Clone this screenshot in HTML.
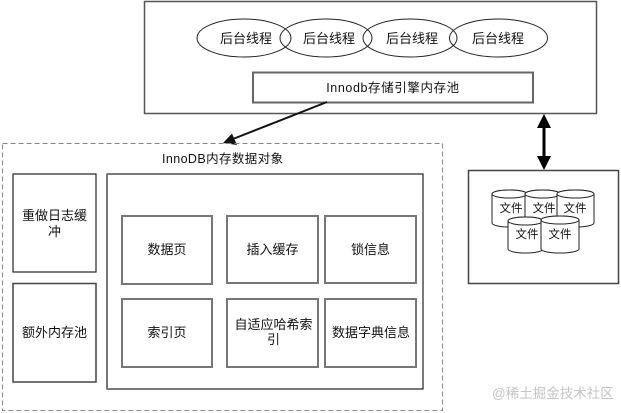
<!DOCTYPE html>
<html>
<head>
<meta charset="utf-8">
<style>
  html, body { margin: 0; padding: 0; background: #fff; }
  body { width: 621px; height: 413px; overflow: hidden; }
  svg { display: block; }
  text { font-family: "Liberation Sans", "Noto Sans CJK SC", sans-serif; fill: #111; }
</style>
</head>
<body>
<svg width="621" height="413" viewBox="0 0 621 413" xmlns="http://www.w3.org/2000/svg">
  <rect x="0" y="0" width="621" height="413" fill="#fff"/>

  <!-- Top box -->
  <rect x="144.5" y="1.5" width="452" height="112" fill="#fff" stroke="#555" stroke-width="1.5"/>

  <!-- Ellipses -->
  <g fill="none" stroke="#222" stroke-width="1">
    <ellipse cx="244" cy="38" rx="47" ry="19"/>
    <ellipse cx="326" cy="38" rx="46" ry="19"/>
    <ellipse cx="410" cy="38" rx="47" ry="19"/>
    <ellipse cx="498.5" cy="38" rx="49" ry="19"/>
  </g>
  <g font-size="13" text-anchor="middle">
    <text x="246" y="43">后台线程</text>
    <text x="329" y="43">后台线程</text>
    <text x="412" y="43">后台线程</text>
    <text x="498" y="43">后台线程</text>
  </g>

  <!-- Innodb pool rect -->
  <rect x="253" y="72.5" width="280" height="30" fill="#fff" stroke="#666" stroke-width="2"/>
  <text x="393" y="92" font-size="12.5" text-anchor="middle" letter-spacing="0.6">Innodb存储引擎内存池</text>

  <!-- Arrow to dashed box -->
  <line x1="327" y1="102" x2="233" y2="139" stroke="#111" stroke-width="2"/>
  <polygon points="223,143 232,133.5 237,145" fill="#111"/>

  <!-- Double arrow -->
  <line x1="544" y1="125" x2="544" y2="159" stroke="#000" stroke-width="3"/>
  <polygon points="544,114 537,128 551,128" fill="#000"/>
  <polygon points="544,170 537,156 551,156" fill="#000"/>

  <!-- Dashed box -->
  <rect x="2.5" y="143.5" width="440" height="267" fill="none" stroke="#888" stroke-width="1" stroke-dasharray="5,3"/>
  <text x="162" y="163" font-size="12.5" letter-spacing="0.4">InnoDB内存数据对象</text>

  <!-- Left boxes -->
  <rect x="13" y="174" width="83" height="98" fill="#fff" stroke="#222" stroke-width="1.2"/>
  <text x="54.5" y="220" font-size="13" text-anchor="middle">重做日志缓</text>
  <text x="54.5" y="236" font-size="13" text-anchor="middle">冲</text>

  <rect x="13" y="283.5" width="83" height="98.5" fill="#fff" stroke="#444" stroke-width="1.5"/>
  <text x="54.5" y="337" font-size="13" text-anchor="middle">额外内存池</text>

  <!-- Inner big box -->
  <rect x="107" y="174" width="316" height="215" fill="#fff" stroke="#222" stroke-width="1.2"/>
  <line x1="107" y1="174" x2="107" y2="389" stroke="#777" stroke-width="2"/>

  <!-- Cells -->
  <g fill="#fff" stroke="#777" stroke-width="2">
    <rect x="122" y="216" width="90" height="68"/>
    <rect x="227" y="216" width="91" height="67"/>
    <rect x="325" y="216" width="91" height="67"/>
    <rect x="122" y="299" width="90" height="68"/>
    <rect x="227" y="299" width="91" height="68"/>
    <rect x="325" y="299" width="91" height="68"/>
  </g>
  <g font-size="13" text-anchor="middle">
    <text x="167" y="254">数据页</text>
    <text x="272.5" y="254">插入缓存</text>
    <text x="370.5" y="254">锁信息</text>
    <text x="167" y="337">索引页</text>
    <text x="273.5" y="329">自适应哈希索</text>
    <text x="273.5" y="344">引</text>
    <text x="371" y="337">数据字典信息</text>
  </g>

  <!-- File box -->
  <rect x="468.5" y="170.5" width="150" height="113" fill="#fff" stroke="#444" stroke-width="1.5"/>

  <!-- Cylinders -->
  <g fill="#fff" stroke="#222" stroke-width="1">
    <!-- cyl1 -->
    <path d="M492,194 A17.5,4 0 0 1 527,194 V223 A17.5,4 0 0 1 492,223 Z"/>
    <ellipse cx="509.5" cy="194" rx="17.5" ry="4"/>
    <!-- cyl2 -->
    <path d="M525,194 A17.5,4 0 0 1 560,194 V224 A17.5,4 0 0 1 525,224 Z"/>
    <ellipse cx="542.5" cy="194" rx="17.5" ry="4"/>
    <!-- cyl3 -->
    <path d="M557,194 A18.5,4 0 0 1 594,194 V223 A18.5,4 0 0 1 557,223 Z"/>
    <ellipse cx="575.5" cy="194" rx="18.5" ry="4"/>
    <!-- cyl4 -->
    <path d="M508,221 A17.5,4 0 0 1 543,221 V249 A17.5,4 0 0 1 508,249 Z"/>
    <ellipse cx="525.5" cy="221" rx="17.5" ry="4"/>
    <!-- cyl5 -->
    <path d="M541,220 A19,4 0 0 1 579,220 V249 A19,4 0 0 1 541,249 Z"/>
    <ellipse cx="560" cy="220" rx="19" ry="4"/>
  </g>
  <g font-size="11.5" text-anchor="middle">
    <text x="511" y="212">文件</text>
    <text x="544" y="212">文件</text>
    <text x="575" y="212">文件</text>
  </g>
  <!-- re-cover lower cylinders' text region order: texts for lower ones drawn after -->
  <g font-size="11.5" text-anchor="middle">
    <text x="527" y="238">文件</text>
    <text x="560" y="238">文件</text>
  </g>

  <!-- Watermark -->
  <text x="492" y="398" font-size="13.5" fill="#c4c4c4" style="fill:#c4c4c4">@稀土掘金技术社区</text>
</svg>
</body>
</html>
